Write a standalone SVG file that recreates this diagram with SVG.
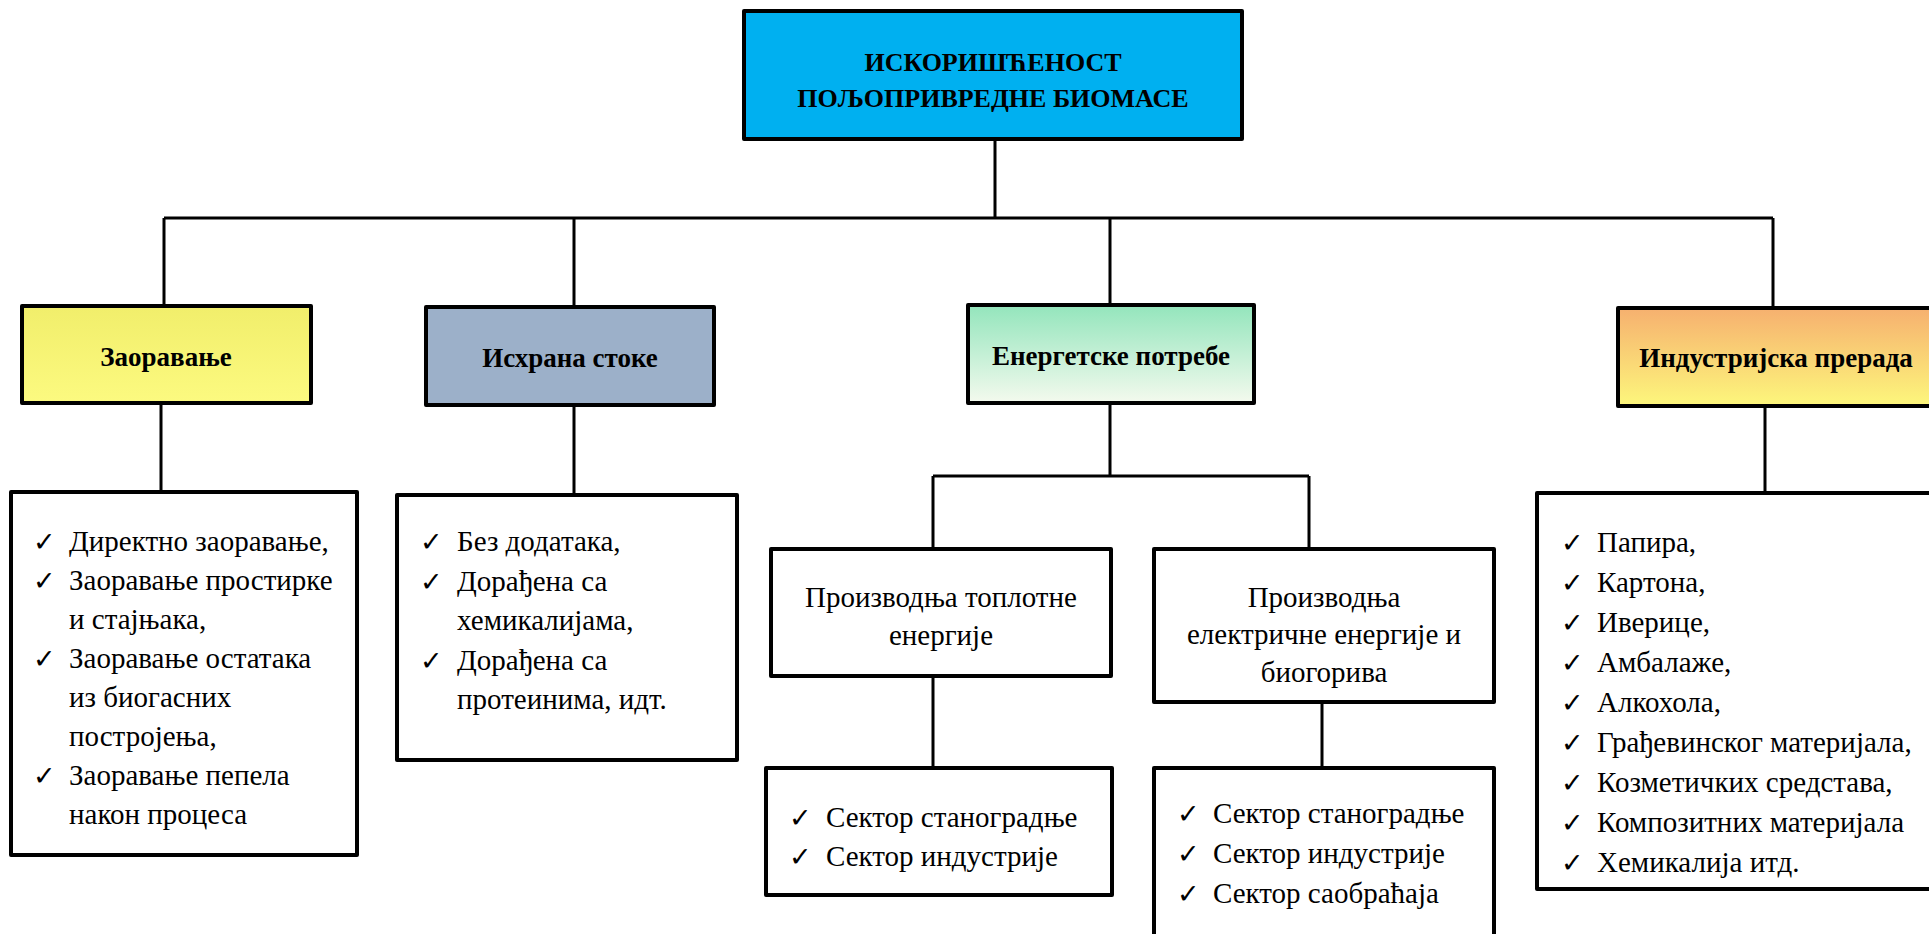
<svg xmlns="http://www.w3.org/2000/svg" width="1929" height="934" viewBox="0 0 1929 934">
<defs>
<linearGradient id="gYellow" x1="0" y1="0" x2="0" y2="1"><stop offset="0" stop-color="#F1EE6B"/><stop offset="1" stop-color="#FCFA80"/></linearGradient>
<linearGradient id="gGreen" x1="0" y1="0" x2="0" y2="1"><stop offset="0" stop-color="#93E5BC"/><stop offset="1" stop-color="#F4FAEE"/></linearGradient>
<linearGradient id="gOrange" x1="0" y1="0" x2="0" y2="1"><stop offset="0" stop-color="#F6B06F"/><stop offset="1" stop-color="#FDF77C"/></linearGradient>
</defs>
<style>
.box{stroke:#000;stroke-width:4;stroke-linejoin:round}
.white{fill:#fff}
.conn{stroke:#000;stroke-width:3;fill:none}
.t{font-family:"Liberation Serif","Times New Roman",serif;fill:#000}
.title{font-size:26px;font-weight:bold;text-anchor:middle}
.lvl2{font-size:27px;font-weight:bold;text-anchor:middle}
.item{font-size:29px}
.mid{font-size:29px;text-anchor:middle}
.chk{font-family:"DejaVu Sans",sans-serif;font-size:27px;font-weight:bold;fill:#000}
</style>
<rect width="1929" height="934" fill="#fff"/>
<g id="connectors">
<path class="conn" d="M995 138V218M164 218H1773M164 218V306M574 218V307M1110 218V305M1773 218V308"/>
<path class="conn" d="M161 403V492M574 405V495M1110 403V476M933 476H1309M933 476V549M1309 476V549M933 676V768M1322 702V768M1765 406V493"/>
</g>
<g id="root">
<rect class="box" x="744" y="11" width="498" height="128" fill="#00B0F0"/>
<text class="t title" x="993" y="71">ИСКОРИШЋЕНОСТ</text>
<text class="t title" x="993" y="107">ПОЉОПРИВРЕДНЕ БИОМАСЕ</text>
</g>
<g id="zaoravanje">
<rect class="box" x="22" y="306" width="289" height="97" fill="url(#gYellow)"/>
<text class="t lvl2" x="166" y="366">Заоравање</text>
</g>
<g id="ishrana">
<rect class="box" x="426" y="307" width="288" height="98" fill="#9CB0C9"/>
<text class="t lvl2" x="570" y="367">Исхрана стоке</text>
</g>
<g id="energetske">
<rect class="box" x="968" y="305" width="286" height="98" fill="url(#gGreen)"/>
<text class="t lvl2" x="1111" y="365">Енергетске потребе</text>
</g>
<g id="industrijska">
<rect class="box" x="1618" y="308" width="320" height="98" fill="url(#gOrange)"/>
<text class="t lvl2" x="1776" y="367">Индустријска прерада</text>
</g>
<g id="zaoravanje-list">
<rect class="box white" x="11" y="492" width="346" height="363"/>
<text class="chk" x="33" y="551">✓</text><text class="t item" x="69" y="551">Директно заоравање,</text>
<text class="chk" x="33" y="590">✓</text><text class="t item" x="69" y="590">Заоравање простирке</text>
<text class="t item" x="69" y="629">и стајњака,</text>
<text class="chk" x="33" y="668">✓</text><text class="t item" x="69" y="668">Заоравање остатака</text>
<text class="t item" x="69" y="707">из биогасних</text>
<text class="t item" x="69" y="746">постројења,</text>
<text class="chk" x="33" y="785">✓</text><text class="t item" x="69" y="785">Заоравање пепела</text>
<text class="t item" x="69" y="824">након процеса</text>
</g>
<g id="ishrana-list">
<rect class="box white" x="397" y="495" width="340" height="265"/>
<text class="chk" x="420" y="551">✓</text><text class="t item" x="457" y="551">Без додатака,</text>
<text class="chk" x="420" y="591">✓</text><text class="t item" x="457" y="591">Дорађена са</text>
<text class="t item" x="457" y="630">хемикалијама,</text>
<text class="chk" x="420" y="670">✓</text><text class="t item" x="457" y="670">Дорађена са</text>
<text class="t item" x="457" y="709">протеинима, идт.</text>
</g>
<g id="toplotna">
<rect class="box white" x="771" y="549" width="340" height="127"/>
<text class="t mid" x="941" y="607">Производња топлотне</text>
<text class="t mid" x="941" y="645">енергије</text>
</g>
<g id="elektricna">
<rect class="box white" x="1154" y="549" width="340" height="153"/>
<text class="t mid" x="1324" y="607">Производња</text>
<text class="t mid" x="1324" y="644">електричне енергије и</text>
<text class="t mid" x="1324" y="682">биогорива</text>
</g>
<g id="toplotna-list">
<rect class="box white" x="766" y="768" width="346" height="127"/>
<text class="chk" x="789" y="827">✓</text><text class="t item" x="826" y="827">Сектор станоградње</text>
<text class="chk" x="789" y="866">✓</text><text class="t item" x="826" y="866">Сектор индустрије</text>
</g>
<g id="elektricna-list">
<rect class="box white" x="1154" y="768" width="340" height="180"/>
<text class="chk" x="1177" y="823">✓</text><text class="t item" x="1213" y="823">Сектор станоградње</text>
<text class="chk" x="1177" y="863">✓</text><text class="t item" x="1213" y="863">Сектор индустрије</text>
<text class="chk" x="1177" y="903">✓</text><text class="t item" x="1213" y="903">Сектор саобраћаја</text>
</g>
<g id="industrija-list">
<rect class="box white" x="1537" y="493" width="410" height="396"/>
<text class="chk" x="1561" y="552">✓</text><text class="t item" x="1597" y="552">Папира,</text>
<text class="chk" x="1561" y="592">✓</text><text class="t item" x="1597" y="592">Картона,</text>
<text class="chk" x="1561" y="632">✓</text><text class="t item" x="1597" y="632">Иверице,</text>
<text class="chk" x="1561" y="672">✓</text><text class="t item" x="1597" y="672">Амбалаже,</text>
<text class="chk" x="1561" y="712">✓</text><text class="t item" x="1597" y="712">Алкохола,</text>
<text class="chk" x="1561" y="752">✓</text><text class="t item" x="1597" y="752">Грађевинског материјала,</text>
<text class="chk" x="1561" y="792">✓</text><text class="t item" x="1597" y="792">Козметичких средстава,</text>
<text class="chk" x="1561" y="832">✓</text><text class="t item" x="1597" y="832">Композитних материјала</text>
<text class="chk" x="1561" y="872">✓</text><text class="t item" x="1597" y="872">Хемикалија итд.</text>
</g>
</svg>
